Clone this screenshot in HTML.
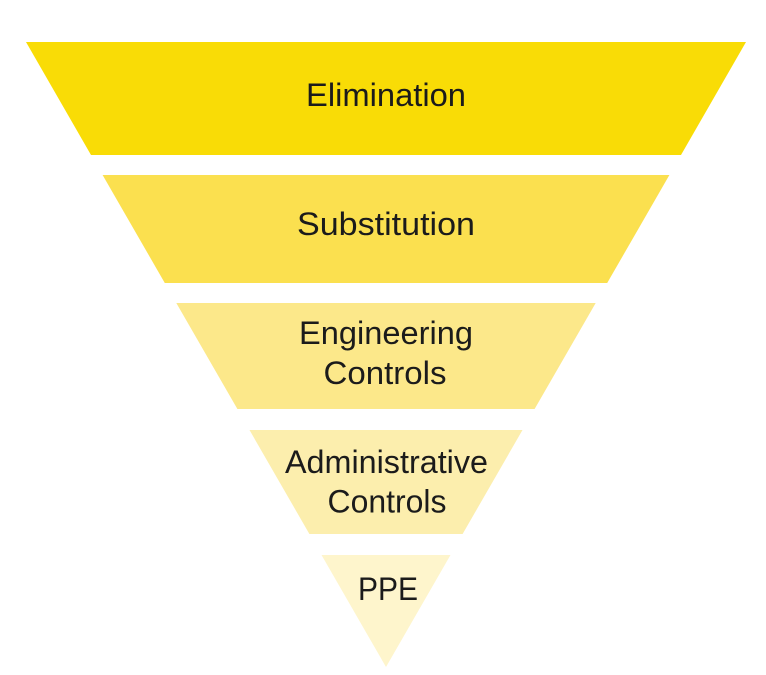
<!DOCTYPE html>
<html>
<head>
<meta charset="utf-8">
<style>
  html, body { margin: 0; padding: 0; background: #ffffff; }
  svg { display: block; }
  text { font-family: "Liberation Sans", Arial, sans-serif; font-size: 32px; fill: #1b1b1b; }
</style>
</head>
<body>
<svg width="766" height="675" viewBox="0 0 766 675" xmlns="http://www.w3.org/2000/svg">
  <rect width="766" height="675" fill="#ffffff"/>
  <polygon points="26,42 746,42 681,155 91,155" fill="#F9DC06"/>
  <polygon points="102.6,175 669.4,175 607.2,283 164.8,283" fill="#FBE04F"/>
  <polygon points="176.3,303 595.7,303 534.6,409 237.4,409" fill="#FCE88A"/>
  <polygon points="249.5,430 522.5,430 462.6,534 309.4,534" fill="#FCEEAD"/>
  <polygon points="321.5,555 450.5,555 386,667" fill="#FEF5CC"/>

  <text x="386" y="106" text-anchor="middle" textLength="160" lengthAdjust="spacingAndGlyphs">Elimination</text>
  <text x="386" y="235" text-anchor="middle" textLength="178" lengthAdjust="spacingAndGlyphs">Substitution</text>
  <text x="386" y="344" text-anchor="middle" textLength="174" lengthAdjust="spacingAndGlyphs">Engineering</text>
  <text x="385" y="384" text-anchor="middle" textLength="123" lengthAdjust="spacingAndGlyphs">Controls</text>
  <text x="386.5" y="473" text-anchor="middle" textLength="203" lengthAdjust="spacingAndGlyphs">Administrative</text>
  <text x="387" y="512.5" text-anchor="middle" textLength="119" lengthAdjust="spacingAndGlyphs">Controls</text>
  <text x="388" y="600" text-anchor="middle" textLength="60" lengthAdjust="spacingAndGlyphs">PPE</text>
</svg>
</body>
</html>
